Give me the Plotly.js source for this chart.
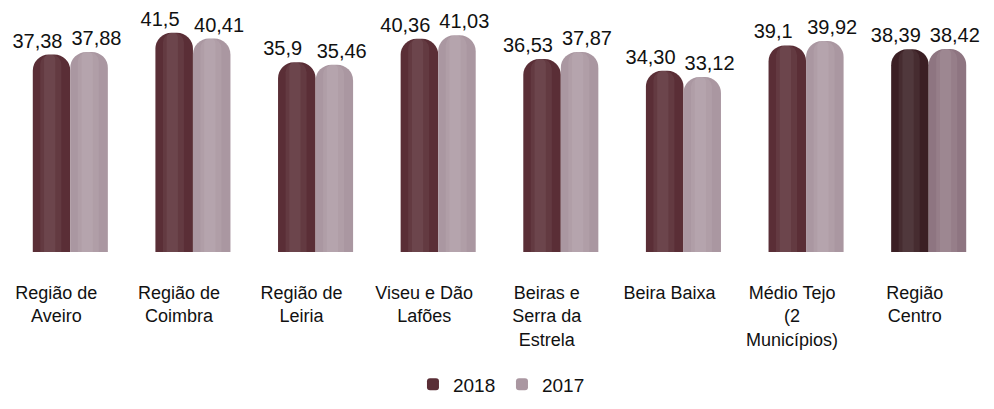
<!DOCTYPE html>
<html>
<head>
<meta charset="utf-8">
<script src="https://cdn.plot.ly/plotly-3.0.1.min.js"></script>
<style>html,body{margin:0;padding:0;background:#fff;}#chart{width:994px;height:409px;}</style>
</head>
<body>
<div id="chart"></div>
<script>
// ---- data ----
const categories = [
  'Região de<br>Aveiro',
  'Região de<br>Coimbra',
  'Região de<br>Leiria',
  'Viseu e Dão<br>Lafões',
  'Beiras e<br>Serra da<br>Estrela',
  'Beira Baixa',
  'Médio Tejo<br>(2<br>Municípios)',
  'Região<br>Centro'
];
const values2018 = [37.38, 41.5, 35.9, 40.36, 36.53, 34.30, 39.1, 38.39];
const values2017 = [37.88, 40.41, 35.46, 41.03, 37.87, 33.12, 39.92, 38.42];
const labels2018 = ['37,38', '41,5', '35,9', '40,36', '36,53', '34,30', '39,1', '38,39'];
const labels2017 = ['37,88', '40,41', '35,46', '41,03', '37,87', '33,12', '39,92', '38,42'];
const seriesNames = ['2018', '2017'];

// ---- styles ----
const FONT = '"Liberation Sans", Arial, sans-serif';
const dark = '#5a2e36', darkC = '#3b1f24';
const light = '#aa97a1', lightC = '#8e7581';
const colors2018 = categories.map((c, i) => i === categories.length - 1 ? darkC : dark);
const colors2017 = categories.map((c, i) => i === categories.length - 1 ? lightC : light);
const W = 0.306;

function base(y, name, colors, offset) {
  return {
    type: 'bar', x: categories, y: y, name: name,
    offset: offset, width: W,
    marker: {color: colors, cornerradius: 16, line: {width: 0}},
    hoverinfo: 'skip'
  };
}
function stripe(y, offset, fromFrac, widthFrac, color, radius) {
  return {
    type: 'bar', x: categories, y: y, showlegend: false,
    offset: offset + W * fromFrac, width: W * widthFrac,
    marker: {color: color, cornerradius: radius, line: {width: 0}},
    hoverinfo: 'skip'
  };
}
// transparent bar of the same height, shifted sideways, that carries the value label
function labelHolder(y, txt, offset) {
  return {
    type: 'bar', x: categories, y: y, showlegend: false,
    offset: offset, width: W,
    marker: {color: 'rgba(0,0,0,0)', cornerradius: 16, line: {width: 0}},
    text: txt, textposition: 'outside', cliponaxis: false, constraintext: 'none',
    textfont: {family: FONT, size: 20, color: '#111'},
    hoverinfo: 'skip'
  };
}

const traces = [
  base(values2018, seriesNames[0], colors2018, -W),
  base(values2017, seriesNames[1], colors2017, 0),
  // subtle highlights for a cylinder effect
  stripe(values2018, -W, 0.20, 0.56, 'rgba(255,255,255,0.06)', 10),
  stripe(values2018, -W, 0.30, 0.30, 'rgba(255,255,255,0.06)', 5),
  stripe(values2017, 0, 0.20, 0.56, 'rgba(255,255,255,0.07)', 10),
  stripe(values2017, 0, 0.30, 0.30, 'rgba(255,255,255,0.07)', 5),
  labelHolder(values2018, labels2018, -W - 0.115),
  labelHolder(values2017, labels2017, 0.06)
];

const layout = {
  width: 994, height: 409,
  margin: {l: 9, r: 4, t: 0, b: 157},
  paper_bgcolor: '#fff', plot_bgcolor: '#fff',
  barmode: 'overlay',
  showlegend: true,
  legend: {
    orientation: 'h', x: 0.505, xanchor: 'center', xref: 'container',
    y: 0.06, yanchor: 'middle', yref: 'container',
    font: {family: FONT, size: 19, color: '#111'},
    itemwidth: 30, entrywidth: 44, tracegroupgap: 0, traceorder: 'normal'
  },
  xaxis: {
    type: 'category', showgrid: false, zeroline: false, showline: false,
    ticks: '', tickfont: {family: FONT, size: 18, color: '#111'},
    ticklabelshift: -14, ticklabelstandoff: 28, fixedrange: true
  },
  yaxis: {
    range: [0, 47.7], visible: false, showgrid: false, zeroline: false, fixedrange: true
  },
  font: {family: FONT}
};

Plotly.newPlot('chart', traces, layout, {displayModeBar: false, staticPlot: true});
</script>
</body>
</html>
